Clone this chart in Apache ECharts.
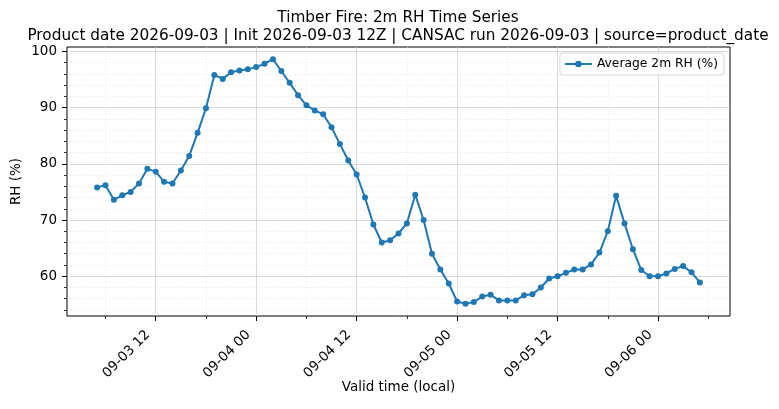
<!DOCTYPE html>
<html>
	<head>
		<meta charset="utf-8">
		<title>Timber Fire RH</title>
		<script src="https://cdn.jsdelivr.net/npm/echarts@6/dist/echarts.min.js" type="text/javascript" charset="utf-8"></script>
		<style>
			html, body { margin: 0; padding: 0; background: #fff; }
		</style>
	</head>
	<body>
		<div id="main" style="width: 779px;height:409px;"></div>
		<script type="text/javascript">
			// hourly samples, first one at 2026-09-03 05:00 local
			var startHour = 5; // hours after 09-03 00
			var rh = [
				// 09-03 05 .. 23
				75.8, 76.2, 73.6, 74.4, 75.0, 76.5, 79.1, 78.6, 76.8, 76.5,
				78.8, 81.4, 85.5, 89.9, 95.8, 95.1, 96.3, 96.6, 96.8,
				// 09-04 00 .. 23
				97.2, 97.8, 98.6, 96.5, 94.4, 92.2, 90.4, 89.5, 88.8, 86.5,
				83.5, 80.6, 78.1, 74.0, 69.2, 66.0, 66.4, 67.6, 69.4, 74.5,
				70.0, 64.0, 61.2, 58.7,
				// 09-05 00 .. 23
				55.5, 55.1, 55.4, 56.4, 56.7, 55.7, 55.7, 55.7, 56.6, 56.8,
				58.0, 59.6, 60.0, 60.6, 61.2, 61.2, 62.1, 64.2, 68.0, 74.3,
				69.4, 64.8, 61.1, 60.0,
				// 09-06 00 .. 05
				60.0, 60.5, 61.3, 61.8, 60.7, 58.9
			];
			var xMajor = [12, 24, 36, 48, 60, 72];
			var xMinor = [6, 18, 30, 42, 54, 66, 78];
			var yMajor = [60, 70, 80, 90, 100];
			var yMinor = [54, 56, 58, 62, 64, 66, 68, 72, 74, 76, 78, 82, 84, 86, 88, 92, 94, 96, 98];

			var points = rh.map(function (v, i) { return [startHour + i, v]; });

			// matplotlib style 5% margins
			var xFirst = startHour, xLast = startHour + rh.length - 1;
			var xPad = (xLast - xFirst) * 0.05;
			var yLo = Math.min.apply(null, rh), yHi = Math.max.apply(null, rh);
			var yPad = (yHi - yLo) * 0.05;
			var xMin = xFirst - xPad, xMax = xLast + xPad;
			var yMin = yLo - yPad, yMax = yHi + yPad;

			function pad2(n) { return n < 10 ? '0' + n : '' + n; }
			function fmtTime(h) {
				var day = 3 + Math.floor(h / 24);
				return '09-' + pad2(day) + ' ' + pad2(h % 24);
			}

			var font = 'DejaVu Sans';
			var majorGrid = { show: true, lineStyle: { color: '#d0d0d0', width: 0.8 } };
			var minorGrid = { show: true, lineStyle: { color: '#e2e2e2', width: 0.7, type: [1, 2] } };

			var myChart = echarts.init(document.getElementById('main'));
			var option = {
				animation: false,
				backgroundColor: '#fff',
				textStyle: { fontFamily: font, color: '#000' },
				title: {
					text: 'Timber Fire: 2m RH Time Series\nProduct date 2026-09-03 | Init 2026-09-03 12Z | CANSAC run 2026-09-03 | source=product_date',
					left: 393,
					top: 4,
					textAlign: 'center',
					textStyle: { fontFamily: font, fontSize: 15.3, fontWeight: 'normal', color: '#000', lineHeight: 18 }
				},
				legend: {
					data: ['Average 2m RH (%)'],
					right: 55,
					top: 53,
					itemWidth: 27,
					itemHeight: 8,
					itemGap: 6,
					padding: [5, 6, 5, 4],
					backgroundColor: 'rgba(255,255,255,0.8)',
					borderColor: '#d6d6d6',
					borderWidth: 1,
					borderRadius: 3,
					textStyle: { fontFamily: font, fontSize: 12.3, color: '#000' }
				},
				grid: {
					left: 67, right: 49, top: 47, bottom: 93,
					containLabel: false,
					outerBoundsMode: 'none',
					show: true, borderColor: '#000', borderWidth: 1,
					backgroundColor: 'transparent'
				},
				xAxis: [{
					type: 'value', min: xMin, max: xMax, position: 'bottom',
					axisLine: { show: false },
					axisTick: { show: true, customValues: xMajor, length: 5, lineStyle: { color: '#000', width: 1 } },
					axisLabel: {
						customValues: xMajor, formatter: fmtTime, rotate: 45, margin: 9,
						padding: [0, 11, 12, 0],
						fontFamily: font, fontSize: 13.5, color: '#000'
					},
					splitLine: majorGrid,
					name: 'Valid time (local)', nameLocation: 'middle', nameGap: 64,
					nameMoveOverlap: false,
					nameTextStyle: { fontFamily: font, fontSize: 13.5, color: '#000' }
				}, {
					type: 'value', min: xMin, max: xMax, position: 'bottom',
					axisLine: { show: false },
					axisTick: { show: true, customValues: xMinor, length: 3, lineStyle: { color: '#000', width: 0.8 } },
					axisLabel: { show: false },
					splitLine: minorGrid
				}],
				yAxis: [{
					type: 'value', min: yMin, max: yMax, position: 'left',
					axisLine: { show: false },
					axisTick: { show: true, customValues: yMajor, length: 5, lineStyle: { color: '#000', width: 1 } },
					axisLabel: { customValues: yMajor, margin: 10, fontFamily: font, fontSize: 13.5, color: '#000' },
					splitLine: majorGrid,
					name: 'RH (%)', nameLocation: 'middle', nameGap: 44,
					nameMoveOverlap: false,
					nameTextStyle: { fontFamily: font, fontSize: 13.5, color: '#000' }
				}, {
					type: 'value', min: yMin, max: yMax, position: 'left',
					axisLine: { show: false },
					axisTick: { show: true, customValues: yMinor, length: 3, lineStyle: { color: '#000', width: 0.8 } },
					axisLabel: { show: false },
					splitLine: minorGrid
				}],
				series: [{
					name: 'Average 2m RH (%)',
					type: 'line',
					xAxisIndex: 0,
					yAxisIndex: 0,
					data: points,
					symbol: 'circle',
					symbolSize: 6,
					showSymbol: true,
					color: '#1f77b4',
					lineStyle: { width: 2, color: '#1f77b4' },
					itemStyle: { color: '#1f77b4' },
					z: 5
				}]
			};
			myChart.setOption(option);
		</script>
	</body>
</html>
